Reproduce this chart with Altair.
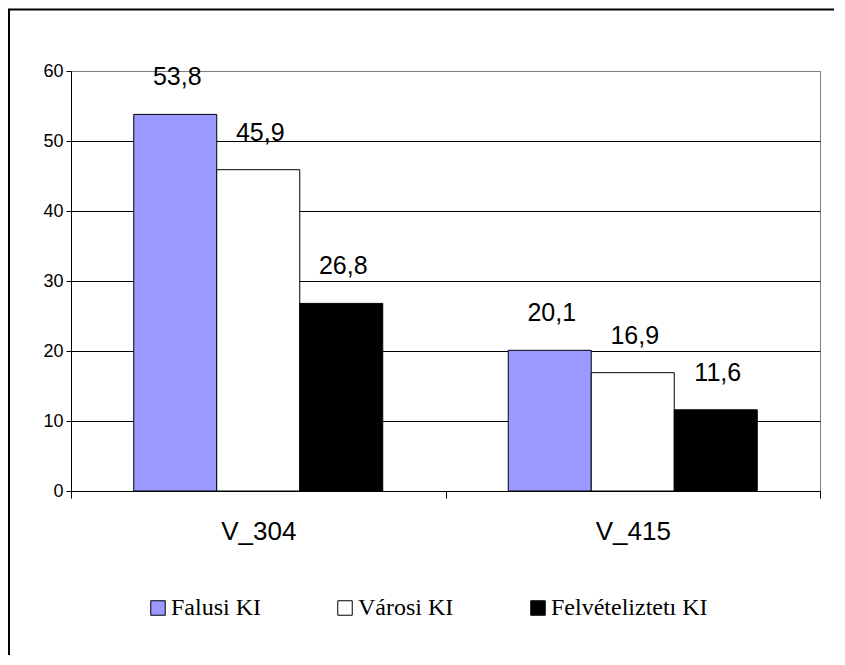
import altair as alt
import pandas as pd

groups = ["V_304", "V_415"]
series = ["Falusi KI", "Városi KI", "Felvételiztetı KI"]
colors = ["#9999FF", "#FFFFFF", "#000000"]
values = {
    "Falusi KI": [53.8, 20.1],
    "Városi KI": [45.9, 16.9],
    "Felvételiztetı KI": [26.8, 11.6],
}
y_ticks = [0, 10, 20, 30, 40, 50, 60]

rows = []
for s in series:
    for g, v in zip(groups, values[s]):
        rows.append({"group": g, "series": s, "value": v})
df = pd.DataFrame(rows)

x_enc = alt.X(
    "group:N",
    sort=groups,
    scale=alt.Scale(paddingInner=0, paddingOuter=0),
    axis=alt.Axis(
        title=None,
        labelAngle=0,
        tickBand="extent",
        tickSize=7,
        labelPadding=20,
        labelFont="Liberation Sans",
        labelFontSize=26,
        labelColor="black",
        domainColor="black",
        tickColor="black",
        grid=False,
    ),
)
xo_enc = alt.XOffset(
    "series:N", sort=series, scale=alt.Scale(paddingOuter=0.756, paddingInner=0)
)
y_enc = alt.Y(
    "value:Q",
    scale=alt.Scale(domain=[0, 60], nice=False),
    axis=alt.Axis(
        title=None,
        values=y_ticks,
        tickSize=5,
        labelPadding=3,
        labelFont="Liberation Sans",
        labelFontSize=18,
        labelColor="black",
        domainColor="black",
        tickColor="black",
        grid=True,
        gridColor=alt.condition("datum.value == 60", alt.value("#808080"), alt.value("black")),
        gridWidth=1,
    ),
)

bars = alt.Chart(df).mark_bar(stroke="black", strokeWidth=1).encode(
    x=x_enc,
    xOffset=xo_enc,
    y=y_enc,
    color=alt.Color(
        "series:N",
        sort=series,
        scale=alt.Scale(domain=series, range=colors),
        legend=alt.Legend(
            title=None,
            orient="none",
            direction="horizontal",
            legendX=75,
            legendY=525,
            padding=0,
            symbolType="square",
            symbolSize=210,
            symbolStrokeColor="black",
            symbolStrokeWidth=1,
            symbolOpacity=1,
            labelFont="Liberation Serif",
            labelFontSize=24,
            labelColor="black",
            labelOffset=1,
            columnPadding=72,
        ),
    ),
)

labels = alt.Chart(df).transform_calculate(
    lbl="replace(format(datum.value, '.1f'), '.', ',')"
).mark_text(
    font="Liberation Sans", fontSize=25, color="black", baseline="alphabetic", dy=-29, dx=2
).encode(
    x=alt.X("group:N", sort=groups),
    xOffset=alt.XOffset("series:N", sort=series),
    y="value:Q",
    text="lbl:N",
)

frame_df = pd.DataFrame({"k": [0]})
top_rule = alt.Chart(frame_df).mark_rule(color="black", strokeWidth=2).encode(
    x=alt.value(-63), x2=alt.value(770), y=alt.value(-61.5)
)
left_rule = alt.Chart(frame_df).mark_rule(color="black", strokeWidth=2).encode(
    x=alt.value(-62), y=alt.value(-62), y2=alt.value(610)
)

chart = alt.layer(bars, labels, top_rule, left_rule).properties(
    width=749,
    height=420,
    padding={"left": 63, "top": 63, "right": 14, "bottom": 164},
    autosize=alt.AutoSizeParams(type="none"),
    background="white",
).configure_view(stroke="#808080", strokeWidth=1)

chart.save("out.html", embed_options={"renderer": "svg", "actions": False})
